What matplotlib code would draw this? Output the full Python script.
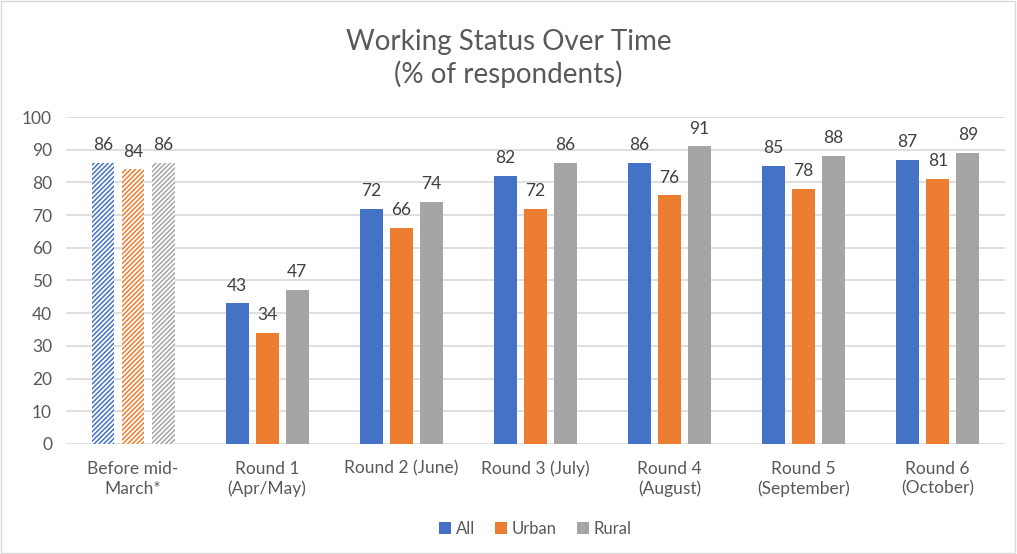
import numpy as np
import matplotlib.pyplot as plt
from matplotlib.patches import Rectangle

plt.rcParams['font.family'] = ['Lato', 'DejaVu Sans']
plt.rcParams['hatch.linewidth'] = 1.1

categories = ["Before mid-\nMarch*", "Round 1\n(Apr/May)", "Round 2 (June)", "Round 3 (July)",
              "Round 4\n(August)", "Round 5\n(September)", "Round 6\n(October)"]
all_vals = [86, 43, 72, 82, 86, 85, 87]
urban_vals = [84, 34, 66, 72, 76, 78, 81]
rural_vals = [86, 47, 74, 86, 91, 88, 89]
series_names = ["All", "Urban", "Rural"]
colors = ["#4472C4", "#ED7D31", "#A5A5A5"]

fig = plt.figure(figsize=(10.17, 5.54), dpi=100)
ax = fig.add_axes([0.0649, 0.1986, 0.9231, 0.5902])

x = np.arange(len(categories))
width = 0.17
offsets = [-0.224, 0, 0.224]

for vals, name, col, off in zip([all_vals, urban_vals, rural_vals], series_names, colors, offsets):
    # first group is hatched, the rest solid
    ax.bar(x[1:] + off, vals[1:], width, color=col, label=name, zorder=2)
    ax.bar(x[0] + off, vals[0], width, facecolor="white", edgecolor=col,
           hatch="///////", linewidth=0, zorder=2)
    for xi, v in zip(x + off, vals):
        ax.text(xi, v + 3, str(v), ha="center", va="bottom", fontsize=12.5, color="#404040")

ax.set_xlim(-0.5, len(categories) - 0.5)
ax.set_ylim(0, 100)
ax.set_yticks(range(0, 101, 10))
ax.set_xticks(x)
ax.set_xticklabels(categories, fontsize=12.5, color="#595959", linespacing=1.3)
ax.tick_params(axis="y", labelsize=12.5, labelcolor="#595959", length=0, pad=10)
ax.tick_params(axis="x", length=0, pad=12)
ax.grid(axis="y", color="#D9D9D9", linewidth=1.2, zorder=0)
for s in ax.spines.values():
    s.set_visible(False)

fig.text(0.5, 0.895, "Working Status Over Time\n(% of respondents)", ha="center", va="center",
         fontsize=20, color="#595959", linespacing=1.25)

ax.legend(loc="center", bbox_to_anchor=(0.5, -0.26), ncol=3, frameon=False, fontsize=12,
          handlelength=0.7, handleheight=0.7, handletextpad=0.3, columnspacing=1.2,
          labelcolor="#595959")

fig.add_artist(Rectangle((0.001, 0.002), 0.997, 0.996, transform=fig.transFigure,
                         fill=False, edgecolor="#D9D9D9", linewidth=1))

fig.savefig("out.png", dpi=100)
